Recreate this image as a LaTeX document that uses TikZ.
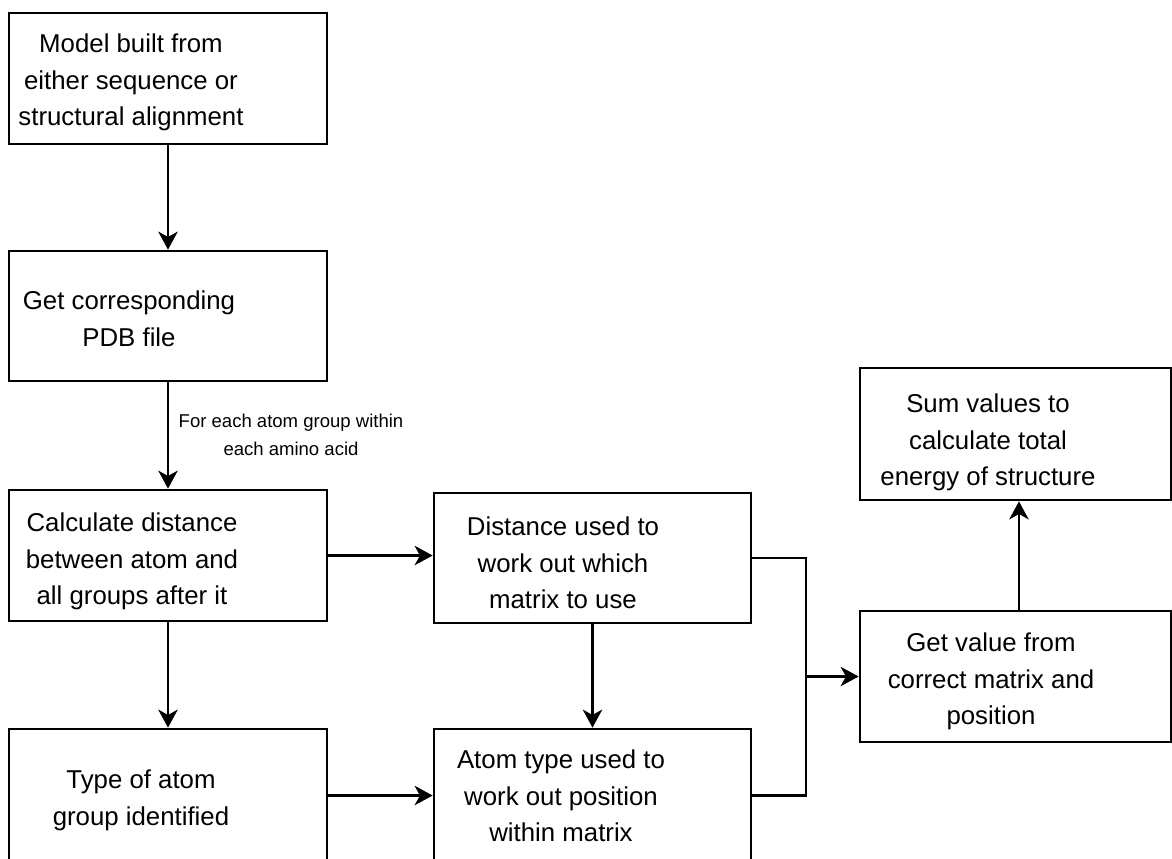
\documentclass[tikz,border=0pt]{standalone}
\usepackage{fontspec}
\setmainfont{Liberation Sans}
\usetikzlibrary{arrows.meta}
\newcommand\mainsz{\fontsize{19.35pt}{27.5pt}\selectfont}
\newcommand\smallsz{\fontsize{13.9pt}{21pt}\selectfont}
\begin{document}
\begin{tikzpicture}[x=0.75pt,y=-0.75pt,
  box/.style={draw=black,line width=2pt,minimum width=238.5pt,inner sep=0pt},
  txt/.style={align=center,inner sep=0pt,anchor=north,font=\mainsz},
  conn/.style={line width=2pt},
  arr/.style={conn,-{Stealth[length=13.5pt,width=14.5pt,inset=4pt]}}]
\useasboundingbox (0,0) rectangle (1172,858);
% boxes
\node[box,minimum height=98.25pt] (b1) at (168,78.5) {};
\node[box,minimum height=97.5pt] (b2) at (168,316) {};
\node[box,minimum height=98.25pt] (b3) at (168,555.5) {};
\node[box,minimum width=237.75pt,minimum height=97.5pt] (b4) at (592.5,558) {};
\node[box,minimum height=99.75pt] (b5) at (168,795.5) {};
\node[box,minimum width=237.75pt,minimum height=99.75pt] (b7) at (592.5,795.5) {};
\node[box,minimum width=233.25pt,minimum height=99pt] (sum) at (1015.5,434) {};
\node[box,minimum width=233.25pt,minimum height=98.25pt] (getv) at (1015.5,676.5) {};
% texts
\node[txt] (t1) at (131,33.4) {Model built from\\either sequence or\\structural alignment};
\node[txt] (t2) at (129,290.4) {Get corresponding\\PDB file};
\node[txt] (t3) at (132,512.4) {Calculate distance\\between atom and\\all groups after it};
\node[txt] (t4) at (563,516.4) {Distance used to\\work out which\\matrix to use};
\node[txt] (t5) at (141,769.4) {Type of atom\\group identified};
\node[txt] (t7) at (561,749.4) {Atom type used to\\work out position\\within matrix};
\node[txt] (tsum) at (988,393.4) {Sum values to\\calculate total\\energy of structure};
\node[txt] (tgetv) at (991,632.4) {Get value from\\correct matrix and\\position};
\node[txt,font=\smallsz] (lab) at (291,413.7) {For each atom group within\\each amino acid};
% connectors
\coordinate (j) at (806,676.5);
\draw[arr] (b1.south) -- (b2.north);
\draw[arr] (b2.south) -- (b3.north);
\draw[arr] (b3.east) -- (b3.east -| b4.west);
\draw[arr] (b3.south) -- (b5.north);
\draw[arr] (b4.south) -- (b7.north);
\draw[arr] (b5.east) -- (b5.east -| b7.west);
\draw[conn] (b4.east) -| (j);
\draw[conn] (b7.east) -| (j);
\draw[arr] (j) -- (getv.west);
\draw[arr] ([xshift=2.6pt]getv.north) -- ([xshift=2.6pt]sum.south);
\end{tikzpicture}
\end{document}
